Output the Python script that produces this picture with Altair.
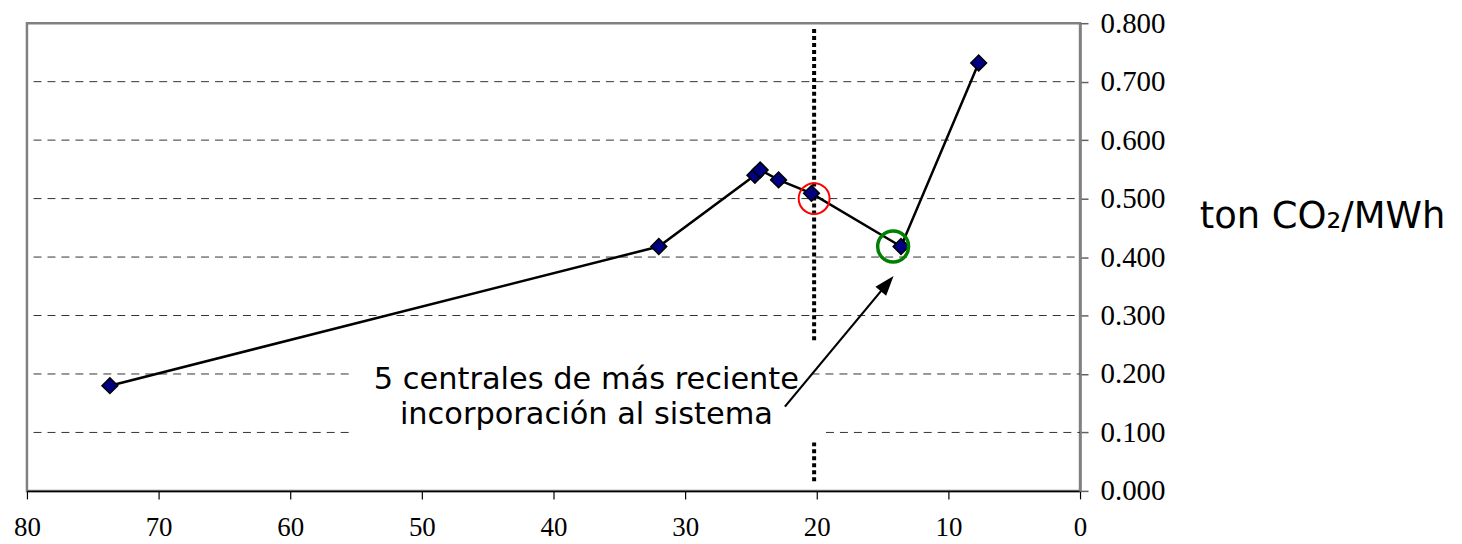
import altair as alt
import pandas as pd

# series values (x = %, y = ton CO2/MWh)
xs = [73.7, 32.0, 24.7, 24.3, 22.9, 20.4, 13.6, 7.7]
ys = [0.180, 0.418, 0.540, 0.549, 0.532, 0.509, 0.418, 0.732]

x_ticks = [0, 10, 20, 30, 40, 50, 60, 70, 80]
y_ticks = [0.0, 0.1, 0.2, 0.3, 0.4, 0.5, 0.6, 0.7, 0.8]

# dashed grid segments (y, x_start, x_end) – interrupted by the text box
grid_y = [0.1, 0.1, 0.2, 0.2, 0.3, 0.4, 0.5, 0.6, 0.7]
grid_x1 = [79.5, 19.3, 79.5, 20.4, 79.5, 79.5, 79.5, 79.5, 79.5]
grid_x2 = [55.2, 0.0, 55.2, 0.0, 0.0, 0.0, 0.0, 0.0, 0.0]

# dotted vertical marker
vline_x = [20.2, 20.2]
vline_y1 = [0.79, 0.083]
vline_y2 = [0.256, 0.012]

# highlighted points
circ_x = [20.2, 14.2]
circ_y = [0.500, 0.418]
circ_col = ["red", "green"]

# arrow
arrow_x = [22.42, 14.65]
arrow_y = [0.1442, 0.3546]

note_lines = ["5 centrales de más reciente", "incorporación al sistema"]

W, H = 1056, 469
xscale = alt.Scale(domain=[0, 80], reverse=True, nice=False)
yscale = alt.Scale(domain=[0, 0.8], nice=False)

df = pd.DataFrame({"x": xs, "y": ys})
grid_df = pd.DataFrame({"y": grid_y, "x1": grid_x1, "x2": grid_x2})
vl_df = pd.DataFrame({"x": vline_x, "y1": vline_y1, "y2": vline_y2})
arrow_df = pd.DataFrame({"x": arrow_x, "y": arrow_y, "o": [0, 1]})

xaxis = alt.Axis(values=x_ticks, format="d", grid=False, domainColor="black",
                 domainWidth=1.5, tickColor="black", tickSize=8, tickWidth=1.2,
                 labelFont="Liberation Serif", labelFontSize=27, labelColor="black",
                 labelPadding=16, title=None, labelFlush=False)
yaxis = alt.Axis(values=y_ticks, format=".3f", orient="right", grid=False,
                 domainColor="#808080", domainWidth=2.5, tickColor="#606060",
                 tickSize=8, tickWidth=1.5, labelFont="Liberation Serif",
                 labelFontSize=29, labelColor="black", labelPadding=12, title=None)

grid = alt.Chart(grid_df).mark_rule(color="#333333", strokeWidth=1, strokeDash=[8, 6]).encode(
    x=alt.X("x1:Q", scale=xscale, axis=xaxis),
    x2="x2:Q",
    y=alt.Y("y:Q", scale=yscale, axis=yaxis),
)

vline = alt.Chart(vl_df).mark_rule(color="black", strokeWidth=4, strokeDash=[4, 3], strokeCap="butt").encode(
    x=alt.X("x:Q", scale=xscale),
    y=alt.Y("y1:Q", scale=yscale),
    y2="y2:Q",
)

line = alt.Chart(df).mark_line(color="black", strokeWidth=2.5).encode(
    x=alt.X("x:Q", scale=xscale),
    y=alt.Y("y:Q", scale=yscale),
    order=alt.Order("x:Q", sort="descending"),
)

pts = alt.Chart(df).mark_point(shape="diamond", filled=True, fill="#000080", color="#000080",
                              stroke="black", strokeWidth=1.5, size=250, opacity=1).encode(
    x=alt.X("x:Q", scale=xscale),
    y=alt.Y("y:Q", scale=yscale),
)

circ_df = pd.DataFrame({"x": circ_x, "y": circ_y, "c": circ_col})
circles = alt.Chart(circ_df).mark_point(shape="circle", filled=False, size=961, opacity=1).encode(
    x=alt.X("x:Q", scale=xscale),
    y=alt.Y("y:Q", scale=yscale),
    stroke=alt.Stroke("c:N", scale=None),
    strokeWidth=alt.condition(alt.datum.c == "green", alt.value(3.5), alt.value(2)),
)

shaft = alt.Chart(arrow_df).mark_line(color="black", strokeWidth=2.2).encode(
    x=alt.X("x:Q", scale=xscale),
    y=alt.Y("y:Q", scale=yscale),
    order="o:Q",
)
head = alt.Chart(arrow_df.iloc[[1]]).mark_point(
    shape="M0,-1L0.7,1L-0.7,1Z", filled=True, color="black", size=400, angle=40, opacity=1
).encode(
    x=alt.X("x:Q", scale=xscale),
    y=alt.Y("y:Q", scale=yscale),
)

note = alt.Chart(pd.DataFrame({"x": [37.5], "y": [0.174]})).mark_text(
    text=note_lines, font="DejaVu Sans", fontSize=30.5, color="black",
    align="center", baseline="alphabetic", lineHeight=35
).encode(
    x=alt.X("x:Q", scale=xscale),
    y=alt.Y("y:Q", scale=yscale),
)

ytitle = alt.Chart(pd.DataFrame({"t": ["ton CO₂/MWh"]})).mark_text(
    font="DejaVu Sans", fontSize=37, color="black", align="left", baseline="alphabetic"
).encode(
    x=alt.value(1176), y=alt.value(205), text="t:N"
)

chart = alt.layer(grid, vline, line, pts, circles, shaft, head, note, ytitle).properties(
    width=W, height=H,
    autosize=alt.AutoSizeParams(type="none"),
    padding={"left": 19, "top": 14.5, "right": 375, "bottom": 50},
    background="white",
).configure_view(stroke="#808080", strokeWidth=2.5)

chart.save("out.html", embed_options={"renderer": "svg", "actions": False})
